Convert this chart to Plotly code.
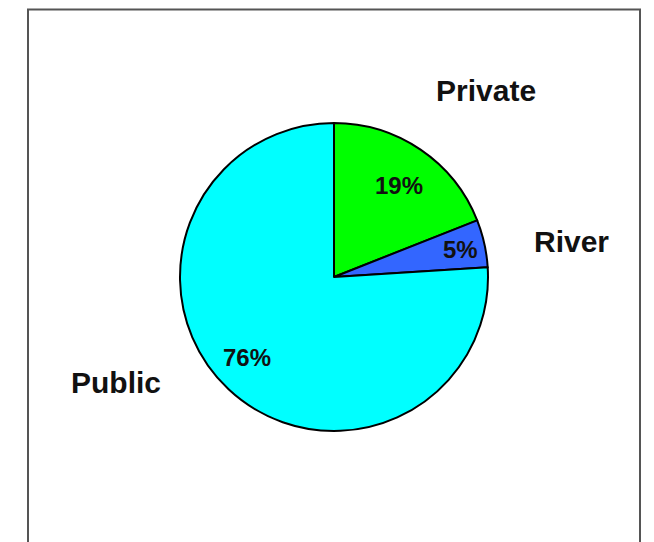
import math
import plotly.graph_objects as go

# ---- data ----
labels = ["Private", "River", "Public"]
values = [19, 5, 76]
pct_text = ["19%", "5%", "76%"]
colors = ["#00FF00", "#3366FF", "#00FFFF"]

# ---- layout constants (style only) ----
OFF = 8                      # default page body margin
W, H = 654 - OFF, 542 - OFF
cx, cy, R = 334 - OFF, 277 - OFF, 154
outer_r = [1.56, 1.56, 1.57]
outer_nudge = [5, 4, 21]          # degrees
inner_r = [0.73, 0.84, 0.77]
inner_nudge = [1, 0.5, 4]
FONT = "Arial, Liberation Sans, sans-serif"

fig = go.Figure(go.Pie(
    labels=labels, values=values, sort=False, direction="clockwise", rotation=0,
    marker=dict(colors=colors, line=dict(color="#000000", width=2)),
    textinfo="none", hoverinfo="label+percent", showlegend=False,
    domain=dict(x=[(cx - R) / W, (cx + R) / W], y=[1 - (cy + R) / H, 1 - (cy - R) / H]),
))

total = sum(values)
cum = 0
annotations = []
for i, v in enumerate(values):
    mid = (cum + v / 2) / total * 360
    cum += v
    for rad, nudge, txt, size in ((outer_r[i], outer_nudge[i], labels[i], 30),
                                  (inner_r[i], inner_nudge[i], pct_text[i], 24)):
        a = math.radians(mid + nudge)
        px = cx + rad * R * math.sin(a)
        py = cy - rad * R * math.cos(a)
        annotations.append(dict(
            x=px / W, y=1 - py / H, xref="paper", yref="paper", text="<b>%s</b>" % txt,
            showarrow=False, xanchor="center", yanchor="middle",
            font=dict(family=FONT, size=size, color="#111111")))

fig.update_layout(
    width=W, height=H, margin=dict(l=0, r=0, t=0, b=0),
    paper_bgcolor="white", plot_bgcolor="white",
    annotations=annotations,
    shapes=[dict(type="rect", xref="paper", yref="paper",
                 x0=(28 - OFF) / W, x1=(640 - OFF) / W, y0=-0.05, y1=1 - (9.5 - OFF) / H,
                 line=dict(color="#555555", width=2), fillcolor="rgba(0,0,0,0)", layer="below")],
)
fig.write_html("out.html")
